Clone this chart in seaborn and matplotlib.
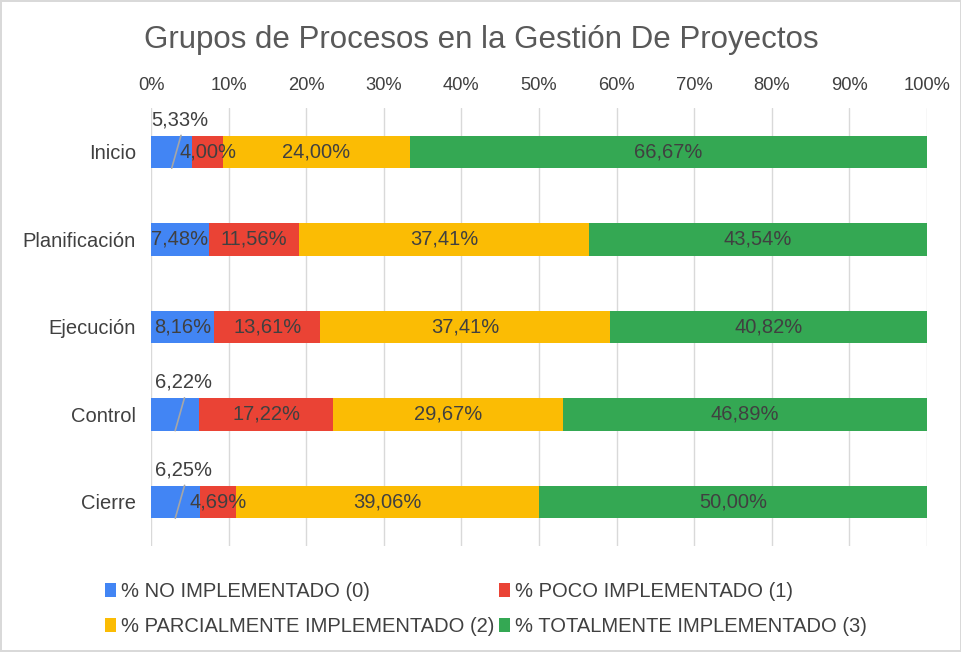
import matplotlib
matplotlib.use("Agg")
import matplotlib.pyplot as plt
import seaborn as sns
import numpy as np
from matplotlib.patches import Patch

# data
categories = ["Inicio", "Planificación", "Ejecución", "Control", "Cierre"]
no_impl = [5.33, 7.48, 8.16, 6.22, 6.25]
poco_impl = [4.00, 11.56, 13.61, 17.22, 4.69]
parcial_impl = [24.00, 37.41, 37.41, 29.67, 39.06]
total_impl = [66.67, 43.54, 40.82, 46.89, 50.00]
series_names = ["% NO IMPLEMENTADO (0)", "% POCO IMPLEMENTADO (1)",
                "% PARCIALMENTE IMPLEMENTADO (2)", "% TOTALMENTE IMPLEMENTADO (3)"]
x_ticks = list(range(0, 101, 10))

colors = ["#4285F4", "#EA4335", "#FBBC04", "#34A853"]
text_color = "#404040"

sns.set_theme(style="white")
plt.rcParams['font.family'] = ['Liberation Sans', 'DejaVu Sans']

fig = plt.figure(figsize=(9.62, 6.52), dpi=100)
fig.patch.set_edgecolor("#d9d9d9")
fig.patch.set_linewidth(1.5)
ax = fig.add_axes([0.157, 0.163, 0.8065, 0.671])

series = [no_impl, poco_impl, parcial_impl, total_impl]
cums = np.cumsum(np.array(series), axis=0)

# stacked bars: draw cumulative totals from the largest down
for k in range(3, -1, -1):
    sns.barplot(x=cums[k], y=categories, color=colors[k], saturation=1,
                width=0.37, orient="h", ax=ax, linewidth=0, zorder=2)

ax.set_xlim(0, 100)
ax.set_ylim(4.5, -0.5)
ax.set_xticks(x_ticks)
ax.set_xticklabels([f"{t}%" for t in x_ticks], fontsize=13.2, color=text_color)
ax.xaxis.tick_top()
ax.tick_params(axis="x", length=0, pad=10)
ax.tick_params(axis="y", length=0, pad=11, labelsize=14.5, labelcolor=text_color)
ax.set_xlabel("")
ax.set_ylabel("")
ax.grid(axis="x", color="#d9d9d9", linewidth=1, zorder=0)
ax.set_axisbelow(True)
for s in ax.spines.values():
    s.set_visible(False)

def fmt(v):
    return f"{v:.2f}".replace(".", ",") + "%"

for k, vals in enumerate(series):
    for i, v in enumerate(vals):
        start = cums[k][i] - v
        if k == 0 and v < 7:
            ax.plot([v / 2, v / 2 + 1.2], [i + 0.185, i - 0.19],
                    color="#a6a6a6", linewidth=1.2, zorder=3)
            ax.text(v / 2 + 1.1, i - 0.37, fmt(v), ha="center", va="center",
                    fontsize=14.5, color=text_color, zorder=4)
        else:
            ax.text(start + v / 2, i, fmt(v), ha="center", va="center",
                    fontsize=14.5, color=text_color, zorder=4)

fig.suptitle("Grupos de Procesos en la Gestión De Proyectos", fontsize=22.5,
             color="#595959", y=0.962)

handles = [Patch(facecolor=c, edgecolor="none") for c in colors]
order = [0, 2, 1, 3]
fig.legend([handles[o] for o in order], [series_names[o] for o in order],
           ncol=2, loc="lower left", bbox_to_anchor=(0.09, -0.004),
           frameon=False, fontsize=14.5, handlelength=0.55, handleheight=0.7,
           handletextpad=0.25, columnspacing=0.25, labelspacing=0.8,
           labelcolor=text_color)

fig.savefig("out.png", dpi=100, edgecolor=fig.get_edgecolor())
